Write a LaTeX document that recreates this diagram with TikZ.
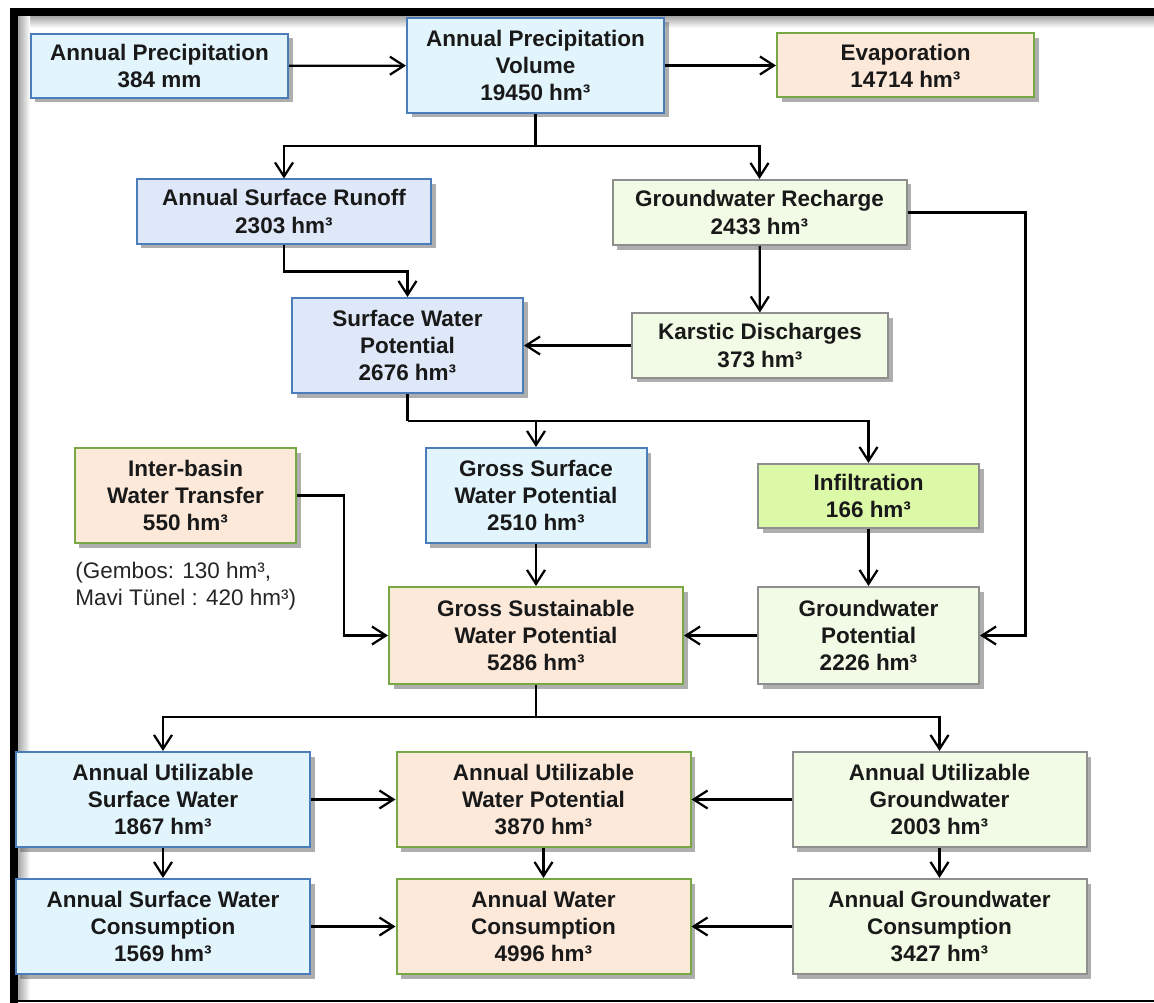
\documentclass[tikz,border=0pt]{standalone}
\usepackage{fontspec}
\setmainfont{Liberation Sans}
\usetikzlibrary{arrows.meta,positioning,shadows}
\definecolor{skyfill}{HTML}{E2F5FD}
\definecolor{skyline}{HTML}{4A7EBB}
\definecolor{bluefill}{HTML}{DFE8F9}
\definecolor{peachfill}{HTML}{FDE9DA}
\definecolor{peachline}{HTML}{77A843}
\definecolor{leaffill}{HTML}{F2FBE6}
\definecolor{leafline}{HTML}{8E8E8E}
\definecolor{limefill}{HTML}{DCF9A8}

\begin{document}
\begin{tikzpicture}[x=0.2mm,y=-0.2mm,>={Straight Barb[length=2.8mm,width=3.6mm]},
    box/.style={draw,line width=0.4mm,align=center,inner sep=0pt,text=black!90,
                font=\bfseries\fontsize{12.8}{15.4}\selectfont,
                drop shadow={shadow xshift=0.9mm,shadow yshift=-0.9mm,opacity=0.45,fill=black!70}},
    sky/.style={box,fill=skyfill,draw=skyline},
    blu/.style={box,fill=bluefill,draw=skyline},
    peach/.style={box,fill=peachfill,draw=peachline},
    leaf/.style={box,fill=leaffill,draw=leafline},
    lime/.style={box,fill=limefill,draw=leafline},
    wide/.style={minimum width=58.8mm},
    mid/.style={minimum width=51.4mm},
    slim/.style={minimum width=44.2mm},
    tall/.style={minimum height=19mm},
    flat/.style={minimum height=12.8mm},
    flow/.style={->,line width=0.45mm}]
    \useasboundingbox (0,0) rectangle (1154,1003);
    % frame
    \shade[top color=black!35,bottom color=white] (18,16) rectangle (1154,28);
    \shade[left color=black!35,right color=white] (18,16) rectangle (30,1000);
    \draw[line width=1.6mm] (14,1003) -- (14,12) -- (1154,12);
    \draw[line width=0.4mm] (14,1001) -- (1154,1001);

    \node[sky,mid,flat] (ap) at (159.5,66) {Annual Precipitation\\384 mm};
    \node[sky,mid,tall] (apv) at (535.5,65.5) {Annual Precipitation\\Volume\\19450 hm³};
    \node[peach,mid,flat] (ev) at (905.5,65.5) {Evaporation\\14714 hm³};
    \node[blu,wide,flat] (ro) at (284,211.5) {Annual Surface Runoff\\2303 hm³};
    \node[leaf,wide,flat,minimum height=13mm] (gr) at (759.5,212.5) {Groundwater Recharge\\2433 hm³};
    \node[blu,tall,minimum width=46.2mm] (swp) at (407.5,345.5) {Surface Water\\Potential\\2676 hm³};
    \node[leaf,flat,minimum width=51.2mm] (ka) at (760,345.5) {Karstic Discharges\\373 hm³};
    \node[peach,slim,tall] (ib) at (185.5,495.5) {Inter-basin\\Water Transfer\\550 hm³};
    \node[sky,slim,tall] (gs) at (536,495.5) {Gross Surface\\Water Potential\\2510 hm³};
    \node[lime,slim,flat] (inf) at (868.5,496) {Infiltration\\166 hm³};
    \node[peach,wide,minimum height=19.4mm] (gsu) at (536,635.5) {Gross Sustainable\\Water Potential\\5286 hm³};
    \node[leaf,slim,minimum height=19.4mm] (gwp) at (868.5,635.5) {Groundwater\\Potential\\2226 hm³};
    \node[sky,wide,tall] (us) at (163,799.5) {Annual Utilizable\\Surface Water\\1867 hm³};
    \node[peach,wide,tall] (uw) at (543.5,799.5) {Annual Utilizable\\Water Potential\\3870 hm³};
    \node[leaf,wide,tall] (ug) at (939.5,799.5) {Annual Utilizable\\Groundwater\\2003 hm³};
    \node[sky,wide,tall] (cs) at (163,926.5) {Annual Surface Water\\Consumption\\1569 hm³};
    \node[peach,wide,tall] (cw) at (543.5,926.5) {Annual Water\\Consumption\\4996 hm³};
    \node[leaf,wide,tall] (cg) at (939.5,926.5) {Annual Groundwater\\Consumption\\3427 hm³};
    \node[anchor=north west,align=left,inner sep=0pt,text=black!85,
          font=\fontsize{12.8}{15.4}\selectfont] (gem) at (75,562)
          {(Gembos: 130 hm³,\\Mavi Tünel : 420 hm³)};

    % connectors
    \draw[flow] (ap) -- (apv);
    \draw[flow] (apv) -- (ev);
    \draw[line width=0.45mm] (apv.south) -- ++(0,32) coordinate (j1);
    \draw[flow] (j1) -| (ro);
    \draw[flow] (j1) -| (gr);
    \draw[flow] (ro.south) -- ++(0,27) -| (swp.north);
    \draw[flow] (gr) -- (ka);
    \draw[flow] (ka) -- (swp);
    \draw[flow] (gr.east) -- ++(118,0) |- (gwp.east);
    \draw[line width=0.45mm] (swp.south) -- ++(0,27) coordinate (j2);
    \draw[flow] (j2) -| (gs);
    \draw[flow] (j2) -| (inf);
    \draw[flow] (ib.east) -- ++(47,0) |- (gsu.west);
    \draw[flow] (gs) -- (gsu);
    \draw[flow] (inf) -- (gwp);
    \draw[flow] (gwp) -- (gsu);
    \draw[line width=0.45mm] (gsu.south) -- ++(0,32) coordinate (j3);
    \draw[flow] (j3) -| (us);
    \draw[flow] (j3) -| (ug);
    \draw[flow] (us) -- (uw);
    \draw[flow] (ug) -- (uw);
    \draw[flow] (us) -- (cs);
    \draw[flow] (uw) -- (cw);
    \draw[flow] (ug) -- (cg);
    \draw[flow] (cs) -- (cw);
    \draw[flow] (cg) -- (cw);
\end{tikzpicture}
\end{document}
